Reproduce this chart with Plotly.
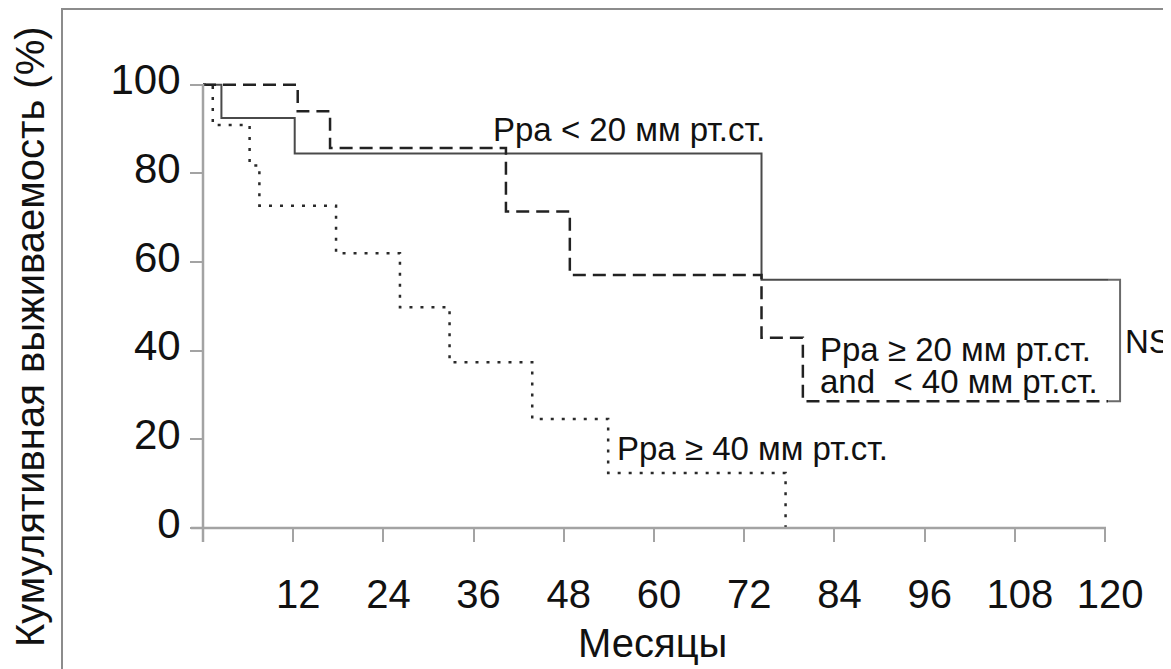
import plotly.graph_objects as go

# ---- data (months, cumulative survival %) ----
months_lt20 = [0, 2.45, 12.2, 74.3, 120.5]
surv_lt20 = [100, 92.5, 84.5, 56, 56]

months_20_40 = [0, 12.6, 16.9, 40.3, 48.8, 74.3, 79.8, 120.4]
surv_20_40 = [100, 94, 85.7, 71.4, 57.1, 42.9, 28.6, 28.6]

months_ge40 = [0, 1.3, 6.2, 7.5, 17.7, 26.2, 32.8, 43.8, 53.9, 77.5]
surv_ge40 = [100, 90.9, 81.8, 72.7, 62, 49.8, 37.4, 24.6, 12.4, 0]

x_ticks = [0, 12, 24, 36, 48, 60, 72, 84, 96, 108, 120]
x_ticktext = [""] + [str(v) for v in x_ticks[1:]]
y_ticks = [0, 20, 40, 60, 80, 100]

# ---- layout geometry (page body has an 8px margin) ----
OFF = 8
W, H = 1171 - OFF, 669 - OFF
ML, MR, MT, MB = 195, 6, 42, 141
PW, PH = W - ML - MR, H - MT - MB
PX_PER_MONTH = 7.517
PX_PER_PCT = 4.433
x_max = PW / PX_PER_MONTH
y_max = PH / PX_PER_PCT


def pxx(p):
    """window pixel x -> paper x"""
    return (p - OFF - ML) / PW


def pxy(p):
    """window pixel y -> paper y"""
    return (H - MB - (p - OFF)) / PH


FONT = "Liberation Sans, Arial, sans-serif"
TXT = "#111111"
AX = "#a3a3a3"
ANN = 33

fig = go.Figure()

fig.add_trace(go.Scatter(x=months_lt20, y=surv_lt20, mode="lines", line_shape="hv",
                         line=dict(color="#4a4a4a", width=2), name="Ppa < 20"))
fig.add_trace(go.Scatter(x=months_20_40, y=surv_20_40, mode="lines", line_shape="hv",
                         line=dict(color="#222222", width=2.5, dash="13px,7px"), name="Ppa 20-40"))
fig.add_trace(go.Scatter(x=months_ge40, y=surv_ge40, mode="lines", line_shape="hv",
                         line=dict(color="#2a2a2a", width=2.5, dash="3px,8px"), name="Ppa >= 40"))

# bracket joining the two upper curves (NS)
bx = max(months_lt20[-1], months_20_40[-1]) + 1.5
fig.add_trace(go.Scatter(x=[months_lt20[-1], bx, bx, months_20_40[-1]],
                         y=[surv_lt20[-1], surv_lt20[-1], surv_20_40[-1], surv_20_40[-1]],
                         mode="lines", line=dict(color="#6a6a6a", width=2), cliponaxis=False))

shapes = [
    # outer frame
    dict(type="rect", xref="paper", yref="paper", x0=pxx(62), x1=pxx(1190), y0=pxy(9), y1=pxy(690),
         line=dict(color="#8c8c8c", width=2), fillcolor="rgba(0,0,0,0)", layer="below"),
    # x axis line
    dict(type="line", xref="paper", yref="paper", x0=pxx(191), x1=pxx(1106), y0=0, y1=0,
         line=dict(color=AX, width=2.5)),
    # y axis line
    dict(type="line", xref="paper", yref="paper", x0=0, x1=0, y0=pxy(542), y1=pxy(84),
         line=dict(color=AX, width=2.5)),
]

annotations = [
    dict(text="Ppa < 20 мм рт.ст.", x=38.3, y=89.8, xref="x", yref="y", xanchor="left",
         yanchor="middle", showarrow=False, font=dict(size=ANN, color=TXT, family=FONT)),
    dict(text="Ppa ≥ 20 мм рт.ст.", x=81.8, y=40.3, xref="x", yref="y", xanchor="left",
         yanchor="middle", showarrow=False, font=dict(size=ANN, color=TXT, family=FONT)),
    dict(text="and\u00a0\u00a0< 40 мм рт.ст.", x=81.8, y=33.0, xref="x", yref="y", xanchor="left",
         yanchor="middle", showarrow=False, font=dict(size=ANN, color=TXT, family=FONT)),
    dict(text="Ppa ≥ 40 мм рт.ст.", x=54.8, y=17.9, xref="x", yref="y", xanchor="left",
         yanchor="middle", showarrow=False, font=dict(size=ANN, color=TXT, family=FONT)),
    dict(text="NS", x=122.4, y=42.1, xref="x", yref="y", xanchor="left",
         yanchor="middle", showarrow=False, font=dict(size=ANN, color=TXT, family=FONT)),
    dict(text="Месяцы", x=pxx(652), y=pxy(643), xref="paper", yref="paper", xanchor="center",
         yanchor="middle", showarrow=False, font=dict(size=40, color=TXT, family=FONT)),
    dict(text="Кумулятивная выживаемость (%)", x=pxx(30), y=pxy(337), xref="paper", yref="paper",
         xanchor="center", yanchor="middle", textangle=-90, showarrow=False,
         font=dict(size=40, color=TXT, family=FONT)),
]

fig.update_layout(
    width=W, height=H,
    margin=dict(l=ML, r=MR, t=MT, b=MB, autoexpand=False),
    paper_bgcolor="white", plot_bgcolor="white",
    showlegend=False,
    shapes=shapes, annotations=annotations,
    xaxis=dict(range=[0, x_max], tickvals=x_ticks, ticktext=x_ticktext, ticks="outside",
               ticklen=13, tickwidth=2, tickcolor=AX, showgrid=False, zeroline=False,
               showline=False, ticklabelstandoff=18, ticklabelshift=5,
               tickfont=dict(size=40, color=TXT, family=FONT), fixedrange=True),
    yaxis=dict(range=[0, y_max], tickvals=y_ticks, ticks="outside", ticklen=12, tickwidth=2,
               tickcolor=AX, showgrid=False, zeroline=False, showline=False,
               ticklabelstandoff=1, ticklabelshift=-5, tickfont=dict(size=42, color=TXT, family=FONT),
               fixedrange=True),
)

fig.write_html("out.html")
